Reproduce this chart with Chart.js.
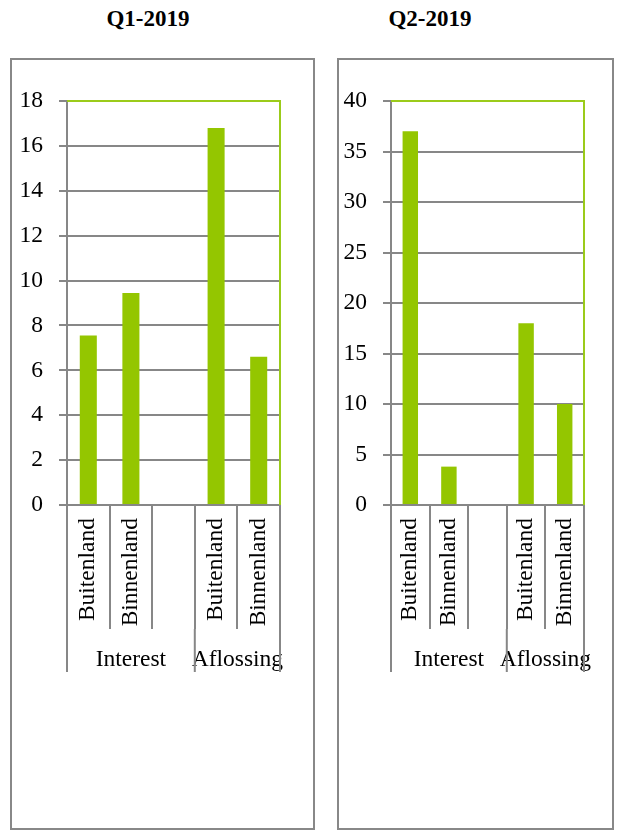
<!DOCTYPE html>
<html>
<head>
<meta charset="utf-8">
<script src="https://cdn.jsdelivr.net/npm/chart.js@4/dist/chart.umd.min.js"></script>
<style>
  body { margin: 0; background: #fff; width: 619px; height: 830px; position: relative; overflow: hidden; }
  .titel { position: absolute; top: 6px; width: 200px; text-align: center;
           font: bold 23px "Liberation Serif", "Times New Roman", serif; color: #000; }
  .kader { position: absolute; top: 58px; height: 772px; border: 2px solid #888;
           box-sizing: border-box; }
  .kader div { position: relative; width: 100%; height: 100%; }
</style>
</head>
<body>

<div class="titel" style="left:48px">Q1-2019</div>
<div class="titel" style="left:330px">Q2-2019</div>

<div class="kader" style="left:10px; width:305px"><div><canvas id="grafiekQ1"></canvas></div></div>
<div class="kader" style="left:337px; width:277px"><div><canvas id="grafiekQ2"></canvas></div></div>

<script>
// ===================== DATA =====================
const categorieen = ["Buitenland", "Binnenland", "", "Buitenland", "Binnenland"];
const groepLabels = ["Interest", "Aflossing"];
const groepGrootte = [3, 2];

const waardenQ1 = [7.55, 9.45, null, 16.8, 6.6];
const waardenQ2 = [37, 3.8, null, 18, 10];

const maxQ1 = 18, stapQ1 = 2;
const maxQ2 = 40, stapQ2 = 5;

// ===================== STIJL =====================
const groen = "#94C600";
const groenRand = "#9BCB1A";
const grijs = "#878787";
const tickLengteX = 124;

Chart.defaults.font.family = "'Liberation Serif', 'Times New Roman', serif";
Chart.defaults.font.size = 23.5;
Chart.defaults.color = "#000";

// groen kader boven en rechts + groepsas onder
const groepPlugin = {
  id: "groepen",
  afterDraw(chart) {
    const ctx = chart.ctx;
    const a = chart.chartArea;
    const x = chart.scales.x;
    ctx.save();
    ctx.strokeStyle = groenRand;
    ctx.lineWidth = 2;
    ctx.beginPath();
    ctx.moveTo(a.left, a.top);
    ctx.lineTo(a.right, a.top);
    ctx.lineTo(a.right, a.bottom);
    ctx.stroke();

    ctx.strokeStyle = grijs;
    ctx.fillStyle = "#000";
    ctx.font = "23.5px 'Liberation Serif', 'Times New Roman', serif";
    ctx.textAlign = "center";
    ctx.textBaseline = "alphabetic";
    let start = 0;
    const grenzen = [x.getPixelForValue(-0.5)];
    groepGrootte.forEach((n, i) => {
      const l = x.getPixelForValue(start - 0.5);
      const r = x.getPixelForValue(start + n - 0.5);
      grenzen.push(r);
      ctx.fillText(groepLabels[i], (l + r) / 2, a.bottom + 161);
      start += n;
    });
    ctx.beginPath();
    grenzen.forEach(px => {
      ctx.moveTo(px, a.bottom + tickLengteX);
      ctx.lineTo(px, a.bottom + 167);
    });
    ctx.stroke();
    ctx.restore();
  }
};

function maakConfig(waarden, max, stap, asBreedte, rechts) {
  return {
    type: "bar",
    data: {
      labels: categorieen,
      datasets: [{
        data: waarden,
        backgroundColor: groen,
        borderWidth: 0,
        barPercentage: 0.4,
        categoryPercentage: 1,
      }],
    },
    options: {
      responsive: true,
      maintainAspectRatio: false,
      animation: false,
      layout: { padding: { top: 41, right: rechts, bottom: 0, left: 0 } },
      plugins: { legend: { display: false }, tooltip: { enabled: false } },
      scales: {
        x: {
          grid: { offset: true, drawOnChartArea: false, tickLength: tickLengteX, color: grijs, lineWidth: 2 },
          border: { color: grijs, width: 2 },
          ticks: { autoSkip: false, minRotation: 90, maxRotation: 90, padding: -111 },
          afterFit(s) { s.height = 323; },
        },
        y: {
          min: 0,
          max: max,
          grid: {
            tickLength: 8,
            lineWidth: 2,
            tickColor: grijs,
            color: c => (c.tick && c.tick.value === max ? groenRand : grijs),
          },
          border: { color: grijs, width: 2 },
          ticks: { stepSize: stap, padding: 16 },
          afterFit(s) { s.width = asBreedte; },
        },
      },
    },
    plugins: [groepPlugin],
  };
}

const grafiekQ1 = new Chart(document.getElementById("grafiekQ1"), maakConfig(waardenQ1, maxQ1, stapQ1, 55, 33));
const grafiekQ2 = new Chart(document.getElementById("grafiekQ2"), maakConfig(waardenQ2, maxQ2, stapQ2, 52, 28));
</script>
</body>
</html>
